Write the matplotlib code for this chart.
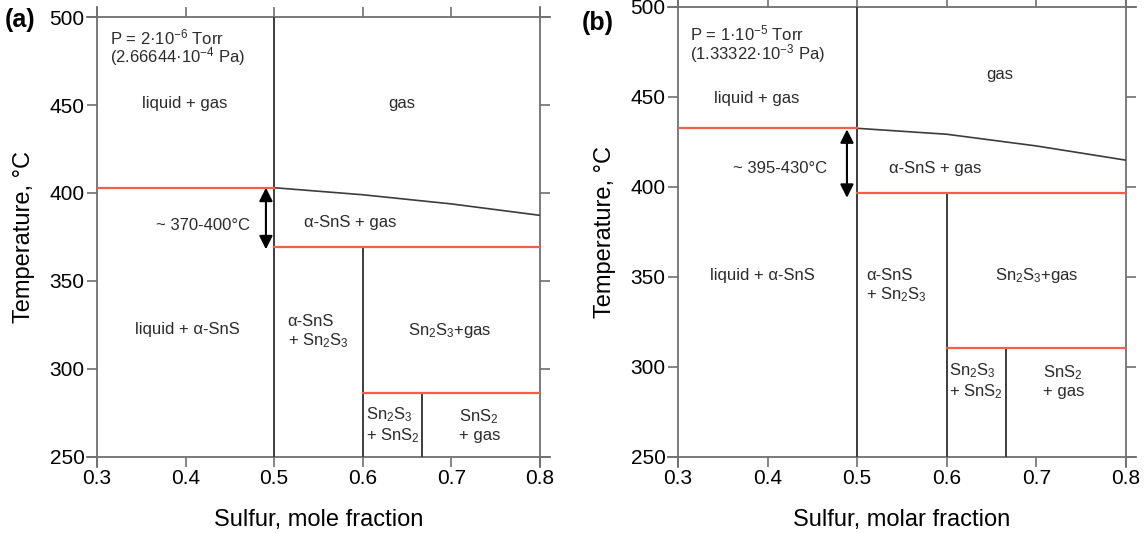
import numpy as np
import matplotlib
matplotlib.use("Agg")
import matplotlib.pyplot as plt

plt.rcParams["font.family"] = ["Liberation Sans", "DejaVu Sans"]
plt.rcParams["mathtext.default"] = "regular"

# --- panel (a): P = 2e-6 Torr ---
a_liq_gas_T = 403.0          # red line liquid+gas / liquid+a-SnS (0.3-0.5)
a_snS_gas_T = 369.5          # red line a-SnS+gas / lower (0.5-0.8)
a_sn2s3_T = 286.5            # red line Sn2S3+gas / lower (0.6-0.8)
a_curve_x = [0.5, 0.6, 0.7, 0.8]
a_curve_T = [403.0, 399.0, 393.8, 387.3]
a_arrow = [0.4907, 403.0, 368.0]

# --- panel (b): P = 1e-5 Torr ---
b_liq_gas_T = 432.6
b_snS_gas_T = 396.4
b_sn2s3_T = 310.7
b_curve_x = [0.5, 0.6, 0.7, 0.8]
b_curve_T = [432.6, 429.3, 422.8, 414.9]
b_arrow = [0.4886, 432.0, 394.0]

x_sn2s3 = 0.6
x_sns2 = 2 / 3

a_labels = [
    ("P = 2·10$^{-6}$ Torr", 0.3147, 488.6, "left"),
    ("(2.66644·10$^{-4}$ Pa)", 0.3147, 477.3, "left"),
    ("liquid + gas", 0.399, 451.1, "center"),
    ("gas", 0.644, 451.1, "center"),
    ("~ 370-400°C", 0.4196, 381.3, "center"),
    ("α-SnS + gas", 0.5856, 383.0, "center"),
    ("liquid + α-SnS", 0.4016, 322.7, "center"),
    ("α-SnS\n+ Sn$_2$S$_3$", 0.5494, 321.0, "center"),
    ("Sn$_2$S$_3$+gas", 0.698, 322.0, "center"),
    ("Sn$_2$S$_3$\n+ SnS$_2$", 0.634, 268.2, "center"),
    ("SnS$_2$\n+ gas", 0.732, 268.2, "center"),
]
b_labels = [
    ("P = 1·10$^{-5}$ Torr", 0.3134, 485.5, "left"),
    ("(1.33322·10$^{-3}$ Pa)", 0.3134, 474.4, "left"),
    ("liquid + gas", 0.388, 449.3, "center"),
    ("gas", 0.659, 462.7, "center"),
    ("~ 395-430°C", 0.414, 410.4, "center"),
    ("α-SnS + gas", 0.587, 410.4, "center"),
    ("liquid + α-SnS", 0.394, 350.8, "center"),
    ("α-SnS\n+ Sn$_2$S$_3$", 0.544, 345.2, "center"),
    ("Sn$_2$S$_3$+gas", 0.7007, 350.8, "center"),
    ("Sn$_2$S$_3$\n+ SnS$_2$", 0.6326, 292.3, "center"),
    ("SnS$_2$\n+ gas", 0.7308, 292.3, "center"),
]

x_ticks = [0.3, 0.4, 0.5, 0.6, 0.7, 0.8]
y_ticks = [250, 300, 350, 400, 450, 500]

RED = "#f2604a"
DARK = "#3c3c3c"
FRAME = "#707070"


def draw_panel(ax, liq_T, sns_T, s23_T, cx, cT, arrow, labels, xlabel):
    ax.set_xlim(0.3, 0.8)
    ax.set_ylim(250, 500)
    for s in ax.spines.values():
        s.set_visible(False)

    # frame lines run a little past the corners
    ext = 0.022
    kw = dict(transform=ax.transAxes, color=FRAME, lw=1.3, clip_on=False)
    ax.plot([-ext, 1 + ext], [0, 0], **kw)
    ax.plot([-ext, 1 + ext], [1, 1], **kw)
    ax.plot([0, 0], [-ext, 1 + ext], **kw)
    ax.plot([1, 1], [-ext, 1 + ext], **kw)

    ax.set_xticks(x_ticks)
    ax.set_yticks(y_ticks)
    ax.set_xticklabels([f"{v:.1f}" for v in x_ticks])
    ax.tick_params(direction="out", length=7, width=1.2, color=FRAME,
                   top=True, right=True, labelsize=15, pad=2)

    # phase boundaries
    ax.plot([0.5, 0.5], [250, 500], color=DARK, lw=1.4)
    ax.plot([x_sn2s3, x_sn2s3], [250, sns_T], color=DARK, lw=1.4)
    ax.plot([x_sns2, x_sns2], [250, s23_T], color=DARK, lw=1.4)
    ax.plot(cx, cT, color=DARK, lw=1.2)
    ax.plot([0.3, 0.5], [liq_T, liq_T], color=RED, lw=1.6)
    ax.plot([0.5, 0.8], [sns_T, sns_T], color=RED, lw=1.6)
    ax.plot([x_sn2s3, 0.8], [s23_T, s23_T], color=RED, lw=1.6)

    ax.annotate("", xy=(arrow[0], arrow[2]), xytext=(arrow[0], arrow[1]),
                arrowprops=dict(arrowstyle="<|-|>", color="black", lw=1.5,
                                mutation_scale=20, shrinkA=0, shrinkB=0))

    for txt, x, y, ha in labels:
        ax.text(x, y, txt, ha=ha, va="center", fontsize=12,
                color="#2b2b2b", multialignment="left", linespacing=1.15)

    ax.set_xlabel(xlabel, fontsize=17, labelpad=15)
    ax.set_ylabel("Temperature, °C", fontsize=17, labelpad=10)


fig = plt.figure(figsize=(11.46, 5.33), dpi=100)
ax_a = fig.add_axes([0.0846, 0.1426, 0.3866, 0.8255])
ax_b = fig.add_axes([0.5916, 0.1426, 0.3909, 0.8443])

draw_panel(ax_a, a_liq_gas_T, a_snS_gas_T, a_sn2s3_T, a_curve_x, a_curve_T,
           a_arrow, a_labels, "Sulfur, mole fraction")
draw_panel(ax_b, b_liq_gas_T, b_snS_gas_T, b_sn2s3_T, b_curve_x, b_curve_T,
           b_arrow, b_labels, "Sulfur, molar fraction")

fig.text(0.004, 0.962, "(a)", fontsize=18, fontweight="bold", va="center")
fig.text(0.508, 0.957, "(b)", fontsize=18, fontweight="bold", va="center")

fig.savefig("out.png", dpi=100)
